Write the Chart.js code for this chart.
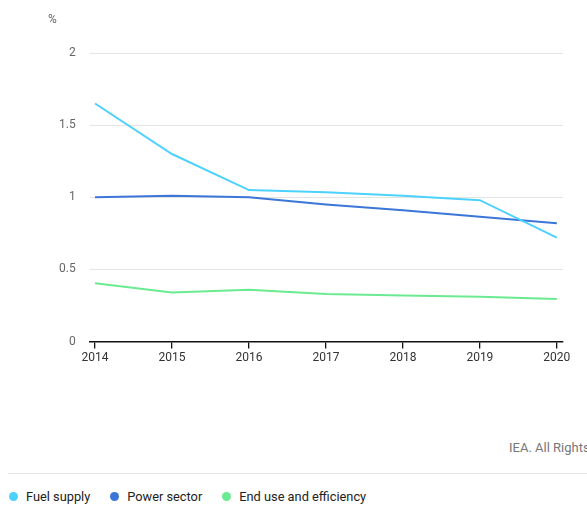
<!DOCTYPE html>
<html><head><meta charset="utf-8">
<script src="https://cdn.jsdelivr.net/npm/chart.js@4"></script>
<style>
html,body{margin:0;padding:0;background:#fff;font-family:Roboto,"Noto Sans",sans-serif;}
#wrap{position:relative;width:587px;height:522px;overflow:hidden;}
#cv{position:absolute;left:0;top:0;}
#unit{position:absolute;left:48px;top:12px;font-size:12px;color:#666;}
#src{position:absolute;left:509px;top:440px;font-size:13px;color:#777;white-space:nowrap;}
#rule{position:absolute;left:8px;right:0;top:473px;height:1px;background:#e2e2e2;}
#legend{position:absolute;left:9px;top:489px;font-size:12.8px;color:#222;display:flex;}
.li{display:flex;align-items:center;margin-right:20px;}
.dot{width:9px;height:9px;border-radius:50%;margin-right:8px;}
</style></head>
<body><div id="wrap">
<div id="cv" style="width:587px;height:367px"><canvas id="c"></canvas></div>
<div id="unit">%</div>
<div id="src">IEA. All Rights Reserved</div>
<div id="rule"></div>
<div id="legend"></div>
</div>
<script>
const years = [2014, 2015, 2016, 2017, 2018, 2019, 2020];
const fuelSupply = [1.65, 1.30, 1.05, 1.035, 1.01, 0.98, 0.72];
const powerSector = [1.0, 1.01, 1.0, 0.95, 0.91, 0.865, 0.82];
const endUse = [0.405, 0.34, 0.36, 0.33, 0.32, 0.31, 0.295];
const seriesNames = ["Fuel supply", "Power sector", "End use and efficiency"];
const seriesColors = ["#4dd2ff", "#3b76d8", "#6beb91"];
const yTicks = [0, 0.5, 1, 1.5, 2];

const allData = [fuelSupply, powerSector, endUse];
const datasets = allData.map((arr, i) => ({
  label: seriesNames[i],
  data: years.map((y, j) => ({x: y, y: arr[j]})),
  borderColor: seriesColors[i],
  backgroundColor: seriesColors[i],
  borderWidth: 2,
  pointRadius: 0,
  tension: 0,
  fill: false
}));

const lg = document.getElementById('legend');
seriesNames.forEach((n, i) => {
  const d = document.createElement('div'); d.className = 'li';
  d.innerHTML = '<span class="dot" style="background:' + seriesColors[i] + '"></span>' + n;
  lg.appendChild(d);
});

new Chart(document.getElementById('c'), {
  type: 'line',
  data: { datasets },
  options: {
    responsive: true, maintainAspectRatio: false, animation: false,
    layout: { padding: { top: 53, left: 45, right: 24, bottom: 0 } },
    plugins: { legend: { display: false }, tooltip: { enabled: false } },
    scales: {
      x: {
        type: 'linear', min: 2013.93, max: 2020.08,
        afterBuildTicks: (ax) => { ax.ticks = years.map(v => ({value: v})); },
        ticks: { callback: (v) => String(v), color: '#333', font: { family: 'Roboto', size: 12 }, padding: 2, maxRotation: 0 },
        grid: { drawOnChartArea: false, drawTicks: true, tickLength: 7, color: '#111', lineWidth: 1.3 },
        border: { display: true, color: '#111', width: 1.5 }
      },
      y: {
        min: 0, max: 2,
        afterBuildTicks: (ax) => { ax.ticks = yTicks.map(v => ({value: v})); },
        ticks: { callback: (v) => String(v), color: '#666', font: { family: 'Roboto', size: 12 }, padding: 14 },
        grid: { color: '#e3e3e3', drawTicks: false, lineWidth: 1 },
        border: { display: false }
      }
    }
  }
});
</script>
</body></html>
